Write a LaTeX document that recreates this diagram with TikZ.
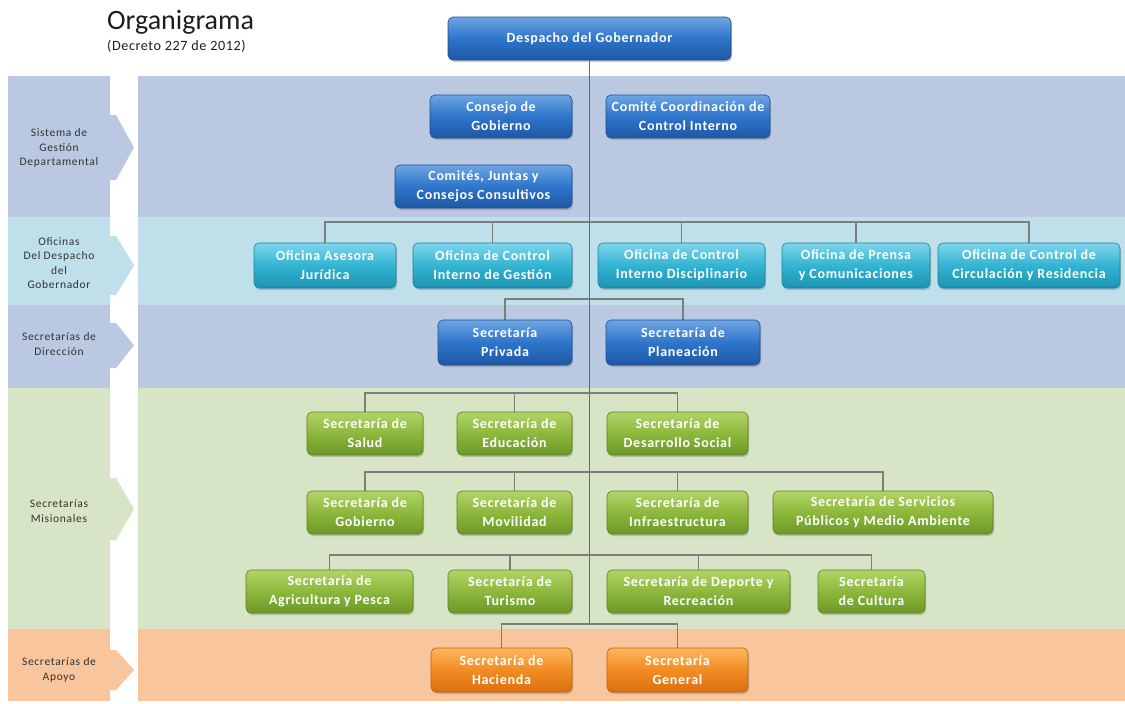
\documentclass[tikz,border=0pt]{standalone}
\usepackage{fontspec}
\setmainfont{Carlito}
\usetikzlibrary{shadows}

% band colours
\definecolor{bandblue}{RGB}{186,201,225}
\definecolor{bandcyan}{RGB}{191,224,234}
\definecolor{bandgreen}{RGB}{215,228,197}
\definecolor{bandorange}{RGB}{249,197,156}
% box colours
\definecolor{bluetop}{RGB}{110,165,228}
\definecolor{bluemid}{RGB}{46,117,202}
\definecolor{bluebot}{RGB}{30,88,165}
\definecolor{blueline}{RGB}{28,76,140}
\definecolor{cyantop}{RGB}{126,214,236}
\definecolor{cyanmid}{RGB}{50,180,210}
\definecolor{cyanbot}{RGB}{28,148,178}
\definecolor{cyanline}{RGB}{26,128,155}
\definecolor{greentop}{RGB}{178,212,104}
\definecolor{greenmid}{RGB}{140,184,60}
\definecolor{greenbot}{RGB}{108,152,40}
\definecolor{greenline}{RGB}{92,130,32}
\definecolor{orangetop}{RGB}{253,182,92}
\definecolor{orangemid}{RGB}{242,140,34}
\definecolor{orangebot}{RGB}{220,112,16}
\definecolor{orangeline}{RGB}{190,96,12}
\definecolor{linegray}{RGB}{125,125,125}
\definecolor{trunkgray}{RGB}{105,105,105}
\definecolor{labeltext}{RGB}{51,51,51}
\definecolor{titletext}{RGB}{30,30,30}

\pgfdeclarelayer{bands}
\pgfdeclarelayer{links}
\pgfsetlayers{bands,links,main}

\begin{document}
\begin{tikzpicture}[x=1pt,y=-1pt,
  box/.style={rounded corners=5pt, minimum height=43pt, inner sep=0pt,
    align=center, text=white,
    font=\fontsize{14}{19}\selectfont\bfseries\addfontfeature{LetterSpace=5},
    line width=0.6pt,
    drop shadow={opacity=0.4, shadow xshift=1pt, shadow yshift=-2pt}},
  wd/.style={minimum width=#1pt},
  bluebox/.style={box, draw=blueline, top color=bluetop, bottom color=bluebot, middle color=bluemid},
  cyanbox/.style={box, draw=cyanline, top color=cyantop, bottom color=cyanbot, middle color=cyanmid},
  greenbox/.style={box, draw=greenline, top color=greentop, bottom color=greenbot, middle color=greenmid},
  orangebox/.style={box, draw=orangeline, top color=orangetop, bottom color=orangebot, middle color=orangemid},
  link/.style={draw=linegray, line width=1.3pt},
  trunk/.style={draw=trunkgray, line width=1.8pt},
  lbl/.style={font=\fontsize{11.5}{14.5}\selectfont\addfontfeature{LetterSpace=6}, text=labeltext, align=center},
]
\useasboundingbox (0,0) rectangle (1125,704);

% ---------- bands ----------
\begin{pgfonlayer}{bands}
  \fill[white] (0,0) rectangle (1125,704);
  % left label column
  \fill[bandblue]   (8,76)  rectangle (110,217);
  \fill[bandcyan]   (8,217) rectangle (110,305);
  \fill[bandblue]   (8,305) rectangle (110,388);
  \fill[bandgreen]  (8,388) rectangle (110,629);
  \fill[bandorange] (8,629) rectangle (110,701);
  % main area
  \fill[bandblue]   (138,76)  rectangle (1125,217);
  \fill[bandcyan]   (138,217) rectangle (1125,305);
  \fill[bandblue]   (138,305) rectangle (1125,388);
  \fill[bandgreen]  (138,388) rectangle (1125,629);
  \fill[bandorange] (138,629) rectangle (1125,701);
  % arrows in the gap
  \fill[bandblue]   (110,115) -- (116,115) -- (134,147.5) -- (116,180) -- (110,180) -- cycle;
  \fill[bandcyan]   (110,236) -- (116,236) -- (134,265.5) -- (116,295) -- (110,295) -- cycle;
  \fill[bandblue]   (110,323) -- (116,323) -- (134,345.5) -- (116,368) -- (110,368) -- cycle;
  \fill[bandgreen]  (110,478) -- (116,478) -- (134,509) -- (116,540) -- (110,540) -- cycle;
  \fill[bandorange] (110,650) -- (116,650) -- (134,670) -- (116,690) -- (110,690) -- cycle;
\end{pgfonlayer}

% ---------- title ----------
\node[anchor=base west, inner sep=0pt, font=\fontsize{28}{30}\selectfont, text=titletext] (title) at (107,30) {Organigrama};
\node[anchor=base west, inner sep=0pt, font=\fontsize{14.2}{15}\selectfont\addfontfeature{LetterSpace=4}, text=titletext] (subtitle) at (107,50) {(Decreto 227 de 2012)};

% ---------- band labels ----------
\node[lbl] (l1) at (59,148) {Sistema de\\Gestión\\Departamental};
\node[lbl] (l2) at (59,263) {Oficinas\\Del Despacho\\del\\Gobernador};
\node[lbl] (l3) at (59,344) {Secretarías de\\Dirección};
\node[lbl] (l4) at (59,511) {Secretarías\\Misionales};
\node[lbl] (l5) at (59,670) {Secretarías de\\Apoyo};

% ---------- boxes ----------
\node[bluebox, wd=283] (desp) at (589.5,38.5) {Despacho del Gobernador};
\node[bluebox, wd=142] (cg)   at (501,116.5) {Consejo de\\Gobierno};
\node[bluebox, wd=164] (ccci) at (688,116.5) {Comité Coordinación de\\Control Interno};
\node[bluebox, wd=177] (cjc)  at (483.5,186.5) {Comités, Juntas y\\Consejos Consultivos};

\node[cyanbox, wd=142, minimum height=45pt] (oaj) at (325,265.5) {Oficina Asesora\\Jurídica};
\node[cyanbox, wd=159, minimum height=45pt] (ocg) at (492.5,265.5) {Oficina de Control\\Interno de Gestión};
\node[cyanbox, wd=167, minimum height=45pt] (ocd) at (681.5,265.5) {Oficina de Control\\Interno Disciplinario};
\node[cyanbox, wd=148, minimum height=45pt] (opc) at (856,265.5) {Oficina de Prensa\\y Comunicaciones};
\node[cyanbox, wd=182, minimum height=45pt] (occ) at (1029,265.5) {Oficina de Control de\\Circulación y Residencia};

\node[bluebox, wd=134, minimum height=45pt] (sp)  at (505,342.5) {Secretaría\\Privada};
\node[bluebox, wd=154, minimum height=45pt] (spl) at (683,342.5) {Secretaría de\\Planeación};

\node[greenbox, wd=116] (ss)  at (365,433.5)   {Secretaría de\\Salud};
\node[greenbox, wd=115] (se)  at (514.5,433.5) {Secretaría de\\Educación};
\node[greenbox, wd=141] (sds) at (677.5,433.5) {Secretaría de\\Desarrollo Social};

\node[greenbox, wd=116] (sg)   at (365,512.5)   {Secretaría de\\Gobierno};
\node[greenbox, wd=115] (sm)   at (514.5,512.5) {Secretaría de\\Movilidad};
\node[greenbox, wd=141] (si)   at (677.5,512.5) {Secretaría de\\Infraestructura};
\node[greenbox, wd=220] (sspm) at (883,512.5)   {Secretaría de Servicios\\Públicos y Medio Ambiente};

\node[greenbox, wd=167] (sap) at (329.5,591.5) {Secretaría de\\Agricultura y Pesca};
\node[greenbox, wd=124] (st)  at (510,591.5)   {Secretaría de\\Turismo};
\node[greenbox, wd=183] (sdr) at (698.5,591.5) {Secretaría de Deporte y\\Recreación};
\node[greenbox, wd=107] (sc)  at (871.5,591.5) {Secretaría\\de Cultura};

\node[orangebox, wd=141, minimum height=44pt] (sh)   at (501.5,670) {Secretaría de\\Hacienda};
\node[orangebox, wd=141, minimum height=44pt] (sgen) at (677.5,670) {Secretaría\\General};

% ---------- connectors ----------
\coordinate (j2) at (589,222);
\coordinate (j3) at (589,299);
\coordinate (j4a) at (589,393);
\coordinate (j4b) at (589,472);
\coordinate (j4c) at (589,555);
\coordinate (j5) at (589,624);

\begin{pgfonlayer}{links}
  \draw[trunk] (desp.south) -- (desp.south |- j5);

  \draw[link] (oaj.north) -- (oaj.north |- j2) -| (occ.north);
  \foreach \n in {ocg,ocd,opc} \draw[link] (\n.north) -- (\n.north |- j2);

  \draw[link] (sp.north) -- (sp.north |- j3) -| (spl.north);

  \draw[link] (ss.north) -- (ss.north |- j4a) -| (sds.north);
  \draw[link] (se.north) -- (se.north |- j4a);

  \draw[link] (sg.north) -- (sg.north |- j4b) -| (sspm.north);
  \foreach \n in {sm,si} \draw[link] (\n.north) -- (\n.north |- j4b);

  \draw[link] (sap.north) -- (sap.north |- j4c) -| (sc.north);
  \foreach \n in {st,sdr} \draw[link] (\n.north) -- (\n.north |- j4c);

  \draw[link] (sh.north) -- (sh.north |- j5) -| (sgen.north);
\end{pgfonlayer}
\end{tikzpicture}
\end{document}
